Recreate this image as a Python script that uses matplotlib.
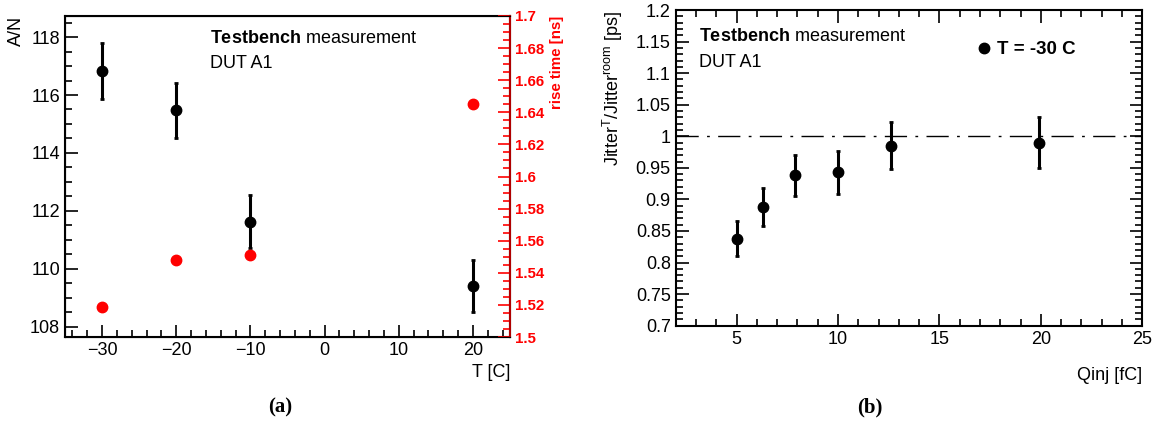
import matplotlib.pyplot as plt
from matplotlib.ticker import MultipleLocator

plt.rcParams['font.family'] = ['Liberation Sans', 'DejaVu Sans']
plt.rcParams['mathtext.fontset'] = 'custom'
plt.rcParams['mathtext.rm'] = 'Liberation Sans'
plt.rcParams['mathtext.bf'] = 'Liberation Sans:bold'

# === (a) A/N and rise time vs temperature ===
temp = [-30, -20, -10, 20]
an = [116.82, 115.47, 111.63, 109.41]
an_err = [0.97, 0.96, 0.93, 0.89]
rise_time = [1.519, 1.548, 1.551, 1.645]

# === (b) jitter ratio vs injected charge ===
qinj = [5.0, 6.3, 7.9, 10.0, 12.6, 19.9]
jitter_ratio = [0.838, 0.888, 0.938, 0.943, 0.985, 0.990]
jitter_err = [0.028, 0.030, 0.032, 0.034, 0.037, 0.040]

fig = plt.figure(figsize=(11.58, 4.21), dpi=100)
red = '#ff0000'
fs = 13

# --- panel (a) ---
ax1 = fig.add_axes([0.0561, 0.1995, 0.3843, 0.7625])
ax1.errorbar(temp, an, yerr=an_err, fmt='o', color='black', ms=7.5,
             elinewidth=2.2, capsize=1.5, capthick=2)
ax1.set_xlim(-35, 25)
ax1.set_ylim(107.64, 118.73)
ax1.xaxis.set_major_locator(MultipleLocator(10))
ax1.xaxis.set_minor_locator(MultipleLocator(2))
ax1.yaxis.set_major_locator(MultipleLocator(2))
ax1.yaxis.set_minor_locator(MultipleLocator(0.5))
ax1.tick_params(which='both', direction='in', labelsize=fs, top=False, right=False)
ax1.tick_params(which='major', length=9, width=1.2)
ax1.tick_params(which='minor', length=5, width=1.2)
ax1.xaxis.set_major_formatter(plt.FuncFormatter(lambda v, p: f'{v:g}'.replace('-', '\u2212')))
for s in ax1.spines.values():
    s.set_linewidth(1.5)
ax1.text(-0.127, 1.0, 'A/N', transform=ax1.transAxes, rotation=90,
         ha='left', va='top', fontsize=fs)
ax1.text(1.0, -0.085, 'T [C]', transform=ax1.transAxes, ha='right', va='top', fontsize=fs)
ax1.text(0.325, 0.93, r'$\mathbf{Testbench}$ measurement', transform=ax1.transAxes,
         fontsize=fs, va='center')
ax1.text(0.325, 0.853, 'DUT A1', transform=ax1.transAxes, fontsize=fs, va='center')

ax2 = ax1.twinx()
ax2.plot(temp, rise_time, 'o', color=red, ms=7.5)
ax2.set_ylim(1.5, 1.7)
ax2.yaxis.set_major_locator(MultipleLocator(0.02))
ax2.yaxis.set_minor_locator(MultipleLocator(0.005))
ax2.tick_params(which='both', direction='in', colors=red, labelsize=10.8, width=1.2)
ax2.tick_params(which='major', length=9)
ax2.tick_params(which='minor', length=5)
ax2.yaxis.set_major_formatter(plt.FuncFormatter(lambda v, p: f'{v:g}'))
for lbl in ax2.get_yticklabels():
    lbl.set_fontweight('bold')
ax2.spines['right'].set_color('#b00000')
ax2.spines['right'].set_linewidth(1.5)
ax2.text(1.105, 1.0, 'rise time [ns]', transform=ax2.transAxes, rotation=90,
         ha='center', va='top', fontsize=10.8, color=red, fontweight='bold')

# --- panel (b) ---
ax3 = fig.add_axes([0.5835, 0.2264, 0.4029, 0.7498])
ax3.axhline(1.0, color='black', lw=1.0, dashes=(16, 6, 2, 6))
ax3.errorbar(qinj, jitter_ratio, yerr=jitter_err, fmt='o', color='black', ms=7.5,
             elinewidth=2.2, capsize=1.5, capthick=2)
ax3.set_xlim(2, 25)
ax3.set_ylim(0.7, 1.2)
ax3.xaxis.set_major_locator(MultipleLocator(5))
ax3.xaxis.set_minor_locator(MultipleLocator(1))
ax3.yaxis.set_major_locator(MultipleLocator(0.05))
ax3.yaxis.set_minor_locator(MultipleLocator(0.01))
ax3.yaxis.set_major_formatter(plt.FuncFormatter(lambda v, p: f'{v:g}'))
ax3.tick_params(which='both', direction='in', labelsize=fs, top=True, right=True, width=1.2)
ax3.tick_params(which='major', length=9)
ax3.tick_params(which='minor', length=5)
for s in ax3.spines.values():
    s.set_linewidth(1.5)
ax3.text(-0.135, 1.0, r'Jitter$^{\mathrm{T}}$/Jitter$^{\mathrm{room}}$ [ps]',
         transform=ax3.transAxes, rotation=90, ha='center', va='top', fontsize=fs)
ax3.text(1.0, -0.13, 'Qinj [fC]', transform=ax3.transAxes, ha='right', va='top', fontsize=fs)
ax3.text(0.05, 0.915, r'$\mathbf{Testbench}$ measurement', transform=ax3.transAxes,
         fontsize=fs, va='center')
ax3.text(0.05, 0.835, 'DUT A1', transform=ax3.transAxes, fontsize=fs, va='center')
ax3.plot([], [], 'o', color='black', ms=7.5, label='T = -30 C')
ax3.legend(loc='upper left', bbox_to_anchor=(0.6, 0.955), frameon=False,
           prop={'size': 13.5, 'weight': 'bold'}, handletextpad=0.1, handlelength=1.2)

fig.text(0.2418, 0.033, '(a)', family='Liberation Serif', fontweight='bold', fontsize=15,
         ha='center', va='center')
fig.text(0.7515, 0.033, '(b)', family='Liberation Serif', fontweight='bold', fontsize=15,
         ha='center', va='center')

fig.savefig('out.png', dpi=100)
